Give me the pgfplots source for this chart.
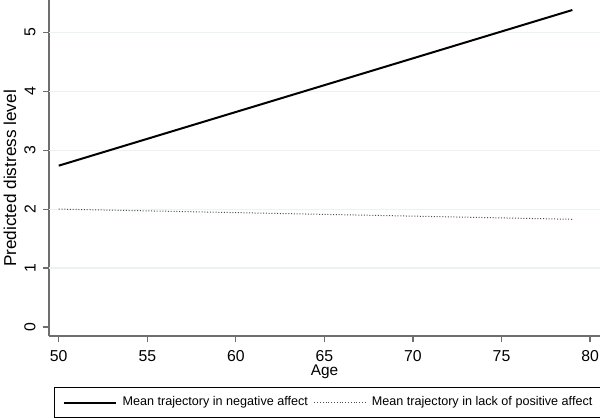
\documentclass[border=0pt]{standalone}
\usepackage{fontspec}
\setmainfont{Liberation Sans}
\usepackage{pgfplots}
\pgfplotsset{compat=1.18}
\definecolor{gridc}{RGB}{234,242,243}
\definecolor{axc}{RGB}{110,110,110}
\pgfplotsset{
  legA/.style={legend image code/.code={\draw[##1] (0bp,0bp) -- (26bp,0bp); \path (29bp,0bp);}},
  legB/.style={legend image code/.code={\draw[##1] (0bp,0bp) -- (25.5bp,0bp); \path (28.5bp,0bp);}},
}
\begin{document}
\begin{tikzpicture}
\path[use as bounding box] (0,0) rectangle (300bp,209bp);
\begin{axis}[
  at={(24.5bp,41bp)}, anchor=south west,
  scale only axis, width=275.5bp, height=168bp,
  xmin=49.45, xmax=80.56, ymin=-0.153, ymax=5.548,
  axis lines*=left,
  axis line style={axc, line width=0.6bp},
  xtick={50,55,...,80}, ytick={0,1,...,5},
  tick align=outside, major tick length=3bp,
  tick style={axc, line width=0.6bp},
  extra y ticks={1,2,3,4,5}, extra y tick labels={},
  extra y tick style={ymajorgrids=true, major tick length=0pt},
  grid style={gridc, line width=0.6bp},
  /pgf/number format/assume math mode=true,
  tick label style={font=\fontsize{7.9bp}{9bp}\selectfont, inner sep=0pt},
  yticklabel style={rotate=90, anchor=south},
  yticklabel shift=3.5bp,
  xticklabel style={anchor=north},
  xticklabel shift=4bp,
  every axis y label/.style={at={(axis description cs:-0.0708,0.469)}, rotate=90, anchor=center, font=\fontsize{8.6bp}{10bp}\selectfont},
  every axis x label/.style={at={(axis description cs:0.5,-0.1071)}, anchor=center, font=\fontsize{7.7bp}{9bp}\selectfont},
  ylabel={Predicted distress level},
  xlabel={Age},
  legend columns=2,
  legend style={at={(axis description cs:0.00907,-0.1518)}, anchor=north west,
    draw=black, line width=0.6bp, fill=white,
    inner xsep=4bp, inner ysep=4.5bp,
    font=\fontsize{6.3bp}{7bp}\selectfont,
    nodes={inner sep=0pt, text height=4.6bp, text depth=1.4bp},
    cells={anchor=west},
    /tikz/every even column/.append style={column sep=3bp}},
]
\addplot[black, line width=1bp, legA]
  coordinates {(50,2.737) (79,5.378)};
\addlegendentry{Mean trajectory in negative affect}
\addplot[black!70, line width=0.5bp, dash pattern=on 0.5bp off 0.9bp, legB]
  coordinates {(50,2.00) (79,1.827)};
\addlegendentry{Mean trajectory in lack of positive affect\hspace*{3bp}}
\end{axis}
\end{tikzpicture}
\end{document}
